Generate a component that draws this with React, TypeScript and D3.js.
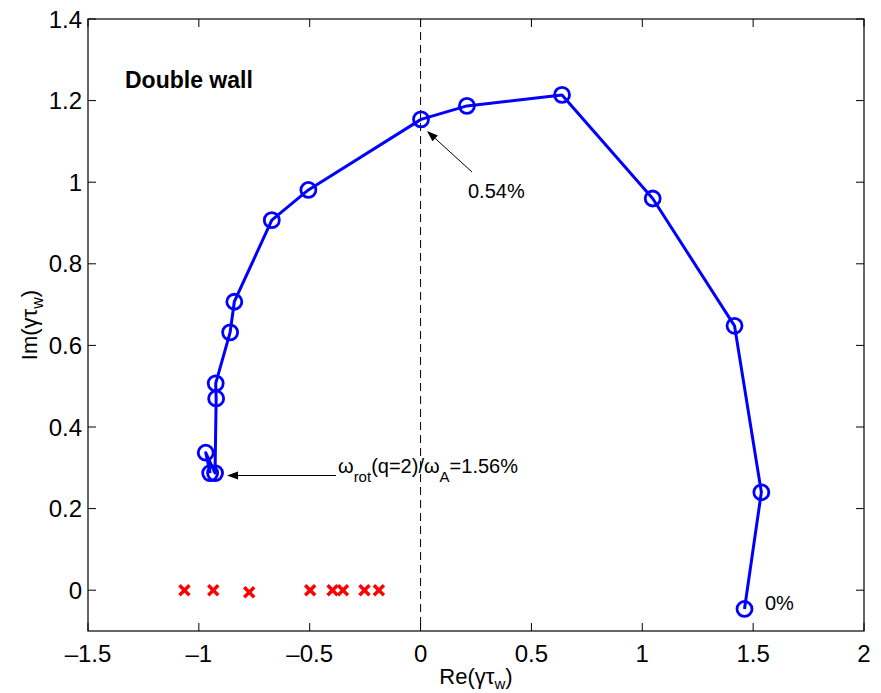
import React from "react";
import * as d3 from "d3";

const reVals = [1.461, 1.537, 1.416, 1.047, 0.638, 0.209, 0.002, -0.506, -0.671, -0.84, -0.859, -0.924, -0.922, -0.927, -0.969, -0.949];
const imVals = [-0.046, 0.24, 0.648, 0.96, 1.214, 1.187, 1.154, 0.981, 0.907, 0.707, 0.632, 0.507, 0.47, 0.287, 0.337, 0.287];
const reCross = [-1.065, -0.935, -0.773, -0.498, -0.397, -0.35, -0.253, -0.188];
const imCross = [0, 0, -0.005, 0, 0, 0, 0, 0];
const xTicks = [-1.5, -1, -0.5, 0, 0.5, 1, 1.5, 2];
const yTicks = [0, 0.2, 0.4, 0.6, 0.8, 1, 1.2, 1.4];

const W = 881, H = 693;
const L = 88, R = 864, T = 19, B = 631;
const FONT = "'Liberation Sans', Arial, Helvetica, sans-serif";

function fmt(v: number) {
  const s = String(Math.abs(v));
  return v < 0 ? "\u2013" + s : s;
}

export default function App() {
  const x = d3.scaleLinear().domain([-1.5, 2]).range([L, R]);
  const y = d3.scaleLinear().domain([-0.1, 1.4]).range([B, T]);
  const pts = reVals.map((r, i) => [r, imVals[i]] as [number, number]);
  const line = d3.line<[number, number]>().x(d => x(d[0])).y(d => y(d[1]));
  const tick = 8;

  const arrow = (x1: number, y1: number, x2: number, y2: number) => {
    const a = Math.atan2(y2 - y1, x2 - x1);
    const len = 11, wd = 4;
    const bx = x2 - len * Math.cos(a), by = y2 - len * Math.sin(a);
    const px = -Math.sin(a) * wd, py = Math.cos(a) * wd;
    return (
      <g>
        <line x1={x1} y1={y1} x2={bx} y2={by} stroke="#000" strokeWidth={1} />
        <polygon points={`${x2},${y2} ${bx + px},${by + py} ${bx - px},${by - py}`} fill="#000" />
      </g>
    );
  };

  return (
    <svg width={W} height={H} style={{ position: "absolute", left: 0, top: 0, background: "#fff" }} fontFamily={FONT}>
      <rect x={0} y={0} width={W} height={H} fill="#fff" />
      <line x1={x(0)} x2={x(0)} y1={T} y2={B} stroke="#000" strokeWidth={1} strokeDasharray="8,5" />
      <rect x={L} y={T} width={R - L} height={B - T} fill="none" stroke="#000" strokeWidth={1.2} />
      {xTicks.map(t => (
        <g key={"x" + t}>
          <line x1={x(t)} x2={x(t)} y1={B} y2={B - tick} stroke="#000" />
          <line x1={x(t)} x2={x(t)} y1={T} y2={T + tick} stroke="#000" />
          <text x={x(t)} y={662} fontSize={24} textAnchor="middle" fill="#000">{fmt(t)}</text>
        </g>
      ))}
      {yTicks.map(t => (
        <g key={"y" + t}>
          <line x1={L} x2={L + tick} y1={y(t)} y2={y(t)} stroke="#000" />
          <line x1={R} x2={R - tick} y1={y(t)} y2={y(t)} stroke="#000" />
          <text x={82} y={y(t) + 8.5} fontSize={24} textAnchor="end" fill="#000">{fmt(t)}</text>
        </g>
      ))}
      <text x={(L + R) / 2} y={684} fontSize={22} textAnchor="middle" fill="#000">
        Re(γτ<tspan fontSize={15} dy={5}>w</tspan><tspan dy={-5}>)</tspan>
      </text>
      <text transform={`translate(37,${(T + B) / 2}) rotate(-90)`} fontSize={22} textAnchor="middle" fill="#000">
        Im(γτ<tspan fontSize={16} dy={6}>w</tspan><tspan dy={-6}>)</tspan>
      </text>
      <path d={line(pts) || ""} fill="none" stroke="#0000ff" strokeWidth={3} strokeLinejoin="round" />
      {pts.map((p, i) => (
        <circle key={"c" + i} cx={x(p[0])} cy={y(p[1])} r={7.5} fill="none" stroke="#0000ff" strokeWidth={2.8} />
      ))}
      {reCross.map((r, i) => {
        const cx = x(r), cy = y(imCross[i]), s = 5;
        return (
          <g key={"k" + i} stroke="#ff0000" strokeWidth={3.4}>
            <line x1={cx - s} y1={cy - s} x2={cx + s} y2={cy + s} />
            <line x1={cx - s} y1={cy + s} x2={cx + s} y2={cy - s} />
          </g>
        );
      })}
      <text x={125} y={88} fontSize={23} fontWeight="bold" fill="#000">Double wall</text>
      {arrow(472, 172, 427, 131)}
      <text x={468} y={198} fontSize={20} fill="#000">0.54%</text>
      <text x={765} y={610} fontSize={20} fill="#000">0%</text>
      {arrow(336, 475.5, 227, 475.5)}
      <text x={338} y={473} fontSize={20} fill="#000">
        ω<tspan fontSize={15} dy={9}>rot</tspan><tspan dy={-9}>(q=2)/ω</tspan><tspan fontSize={15} dy={9}>A</tspan><tspan dy={-9}>=1.56%</tspan>
      </text>
    </svg>
  );
}
